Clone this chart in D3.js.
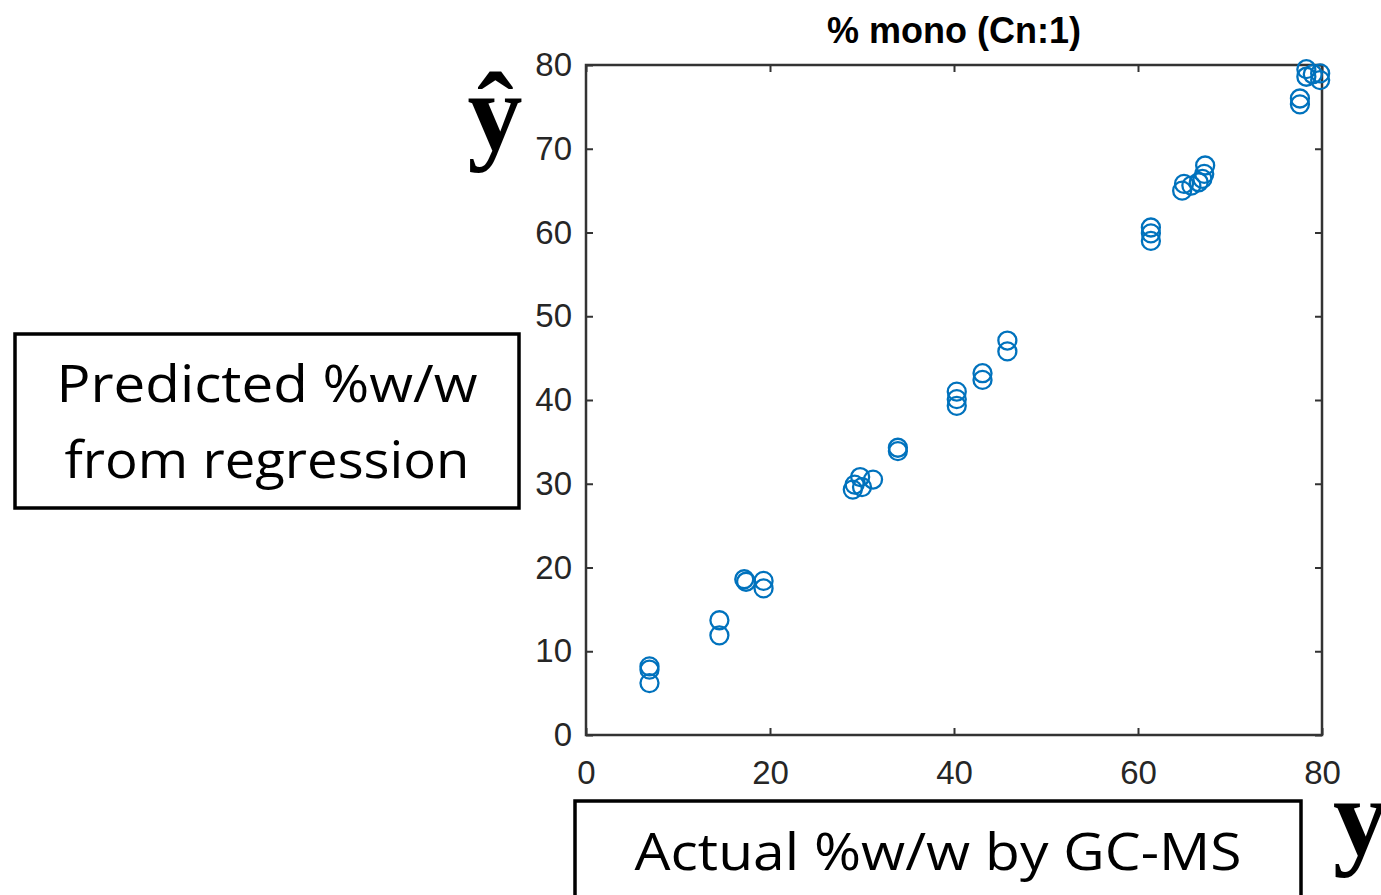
<!DOCTYPE html>
<html>
<head>
<meta charset="utf-8">
<script src="https://cdnjs.cloudflare.com/ajax/libs/d3/7.8.5/d3.min.js"></script>
<style>
  html, body { margin: 0; padding: 0; background: #fff; }
  svg { display: block; }
</style>
</head>
<body>
<svg id="chart" width="1381" height="895"></svg>
<script>
// Actual %w/w (GC-MS) vs predicted %w/w from the regression model
const actual = [
  6.9, 6.9, 6.9,
  14.5, 14.5,
  17.2, 17.4, 19.3, 19.3,
  29.0, 29.2, 29.8, 30.0, 31.2,
  33.9, 33.9,
  40.3, 40.3, 40.3,
  43.1, 43.1,
  45.8, 45.8,
  61.4, 61.4, 61.4,
  64.8, 65.0, 65.8, 66.6, 67.0, 67.2, 67.3,
  77.6, 77.6,
  78.3, 78.3, 79.0, 79.8, 79.8
];
const predicted = [
  8.2, 7.8, 6.2,
  13.7, 11.9,
  18.6, 18.3, 18.4, 17.5,
  29.3, 29.9, 30.8, 29.6, 30.5,
  34.3, 33.9,
  41.0, 40.1, 39.3,
  43.2, 42.4,
  47.1, 45.8,
  60.6, 59.9, 59.0,
  65.0, 65.8, 65.6, 66.0, 66.4, 67.0, 68.0,
  76.0, 75.3,
  79.5, 78.6, 78.9, 79.0, 78.2
];
const xTicks = [0, 20, 40, 60, 80];
const yTicks = [0, 10, 20, 30, 40, 50, 60, 70, 80];
const titleText = "% mono (Cn:1)";
const yBoxLines = ["Predicted %w/w", "from regression"];
const xBoxText = "Actual %w/w by GC-MS";

const svg = d3.select("#chart");
const plot = { left: 586, right: 1322, top: 65, bottom: 735 };
const axisColor = "#333333";
const markerColor = "#0072BD";
const tickFont = "'Liberation Sans', Arial, sans-serif";

const x = d3.scaleLinear().domain([0, 80]).range([plot.left, plot.right]);
const y = d3.scaleLinear().domain([0, 80]).range([plot.bottom, plot.top]);

// Axes: ticks point inward on all four sides, labels only on left and bottom
const tickLen = 7;
const styleAxis = g => {
  g.select(".domain").remove();
  g.selectAll("line").attr("stroke", axisColor).attr("stroke-width", 2);
  g.selectAll("text").attr("fill", "#262626")
    .style("font-family", tickFont).style("font-size", "33px");
};

svg.append("g")
  .attr("transform", `translate(0,${plot.bottom})`)
  .call(d3.axisBottom(x).tickValues(xTicks).tickSize(-tickLen).tickPadding(26).tickFormat(d3.format("d")))
  .call(styleAxis);

svg.append("g")
  .attr("transform", `translate(0,${plot.top})`)
  .call(d3.axisTop(x).tickValues(xTicks).tickSize(-tickLen).tickFormat(""))
  .call(styleAxis);

svg.append("g")
  .attr("transform", `translate(${plot.left},0)`)
  .call(d3.axisLeft(y).tickValues(yTicks).tickSize(-tickLen).tickPadding(14).tickFormat(d3.format("d")))
  .call(styleAxis);

svg.append("g")
  .attr("transform", `translate(${plot.right},0)`)
  .call(d3.axisRight(y).tickValues(yTicks).tickSize(-tickLen).tickFormat(""))
  .call(styleAxis);

// Plot frame
svg.append("rect")
  .attr("x", plot.left).attr("y", plot.top)
  .attr("width", plot.right - plot.left).attr("height", plot.bottom - plot.top)
  .attr("fill", "none").attr("stroke", axisColor).attr("stroke-width", 2.5);

// Title
svg.append("text")
  .attr("x", 954).attr("y", 43)
  .attr("text-anchor", "middle")
  .style("font-family", tickFont).style("font-weight", "bold").style("font-size", "36px")
  .attr("fill", "#000")
  .text(titleText);

// Data markers: open circles
svg.append("g")
  .selectAll("circle")
  .data(actual.map((a, i) => [a, predicted[i]]))
  .join("circle")
  .attr("cx", d => x(d[0]))
  .attr("cy", d => y(d[1]))
  .attr("r", 9)
  .attr("fill", "none")
  .attr("stroke", markerColor)
  .attr("stroke-width", 2.3);

// Y-hat symbol
const symbolFont = "'Liberation Serif', 'Times New Roman', serif";
svg.append("text")
  .attr("x", 495).attr("y", 150)
  .attr("text-anchor", "middle")
  .style("font-family", symbolFont)
  .style("font-weight", "bold").style("font-size", "110px")
  .text("ŷ");

// Y symbol (bottom right, running off the edge)
svg.append("text")
  .attr("x", 1333).attr("y", 855)
  .attr("text-anchor", "start")
  .style("font-family", symbolFont)
  .style("font-weight", "bold").style("font-size", "110px")
  .text("y");

// Label box for predicted values
const boxFont = "'Open Sans', Lato, sans-serif";
svg.append("rect")
  .attr("x", 15).attr("y", 334).attr("width", 504).attr("height", 174)
  .attr("fill", "#fff").attr("stroke", "#000").attr("stroke-width", 3.5);
const lineWidths = [421, 405];
svg.append("g").selectAll("text")
  .data(yBoxLines)
  .join("text")
  .attr("x", 267)
  .attr("y", (d, i) => 402 + i * 76)
  .attr("text-anchor", "middle")
  .attr("textLength", (d, i) => lineWidths[i])
  .attr("lengthAdjust", "spacingAndGlyphs")
  .style("font-family", boxFont).style("font-size", "52px")
  .attr("fill", "#000")
  .text(d => d);

// Label box for actual values
svg.append("rect")
  .attr("x", 575).attr("y", 801).attr("width", 726).attr("height", 120)
  .attr("fill", "#fff").attr("stroke", "#000").attr("stroke-width", 3.5);
svg.append("text")
  .attr("x", 938).attr("y", 870)
  .attr("text-anchor", "middle")
  .attr("textLength", 607)
  .attr("lengthAdjust", "spacingAndGlyphs")
  .style("font-family", boxFont).style("font-size", "52px")
  .attr("fill", "#000")
  .text(xBoxText);
</script>
</body>
</html>
